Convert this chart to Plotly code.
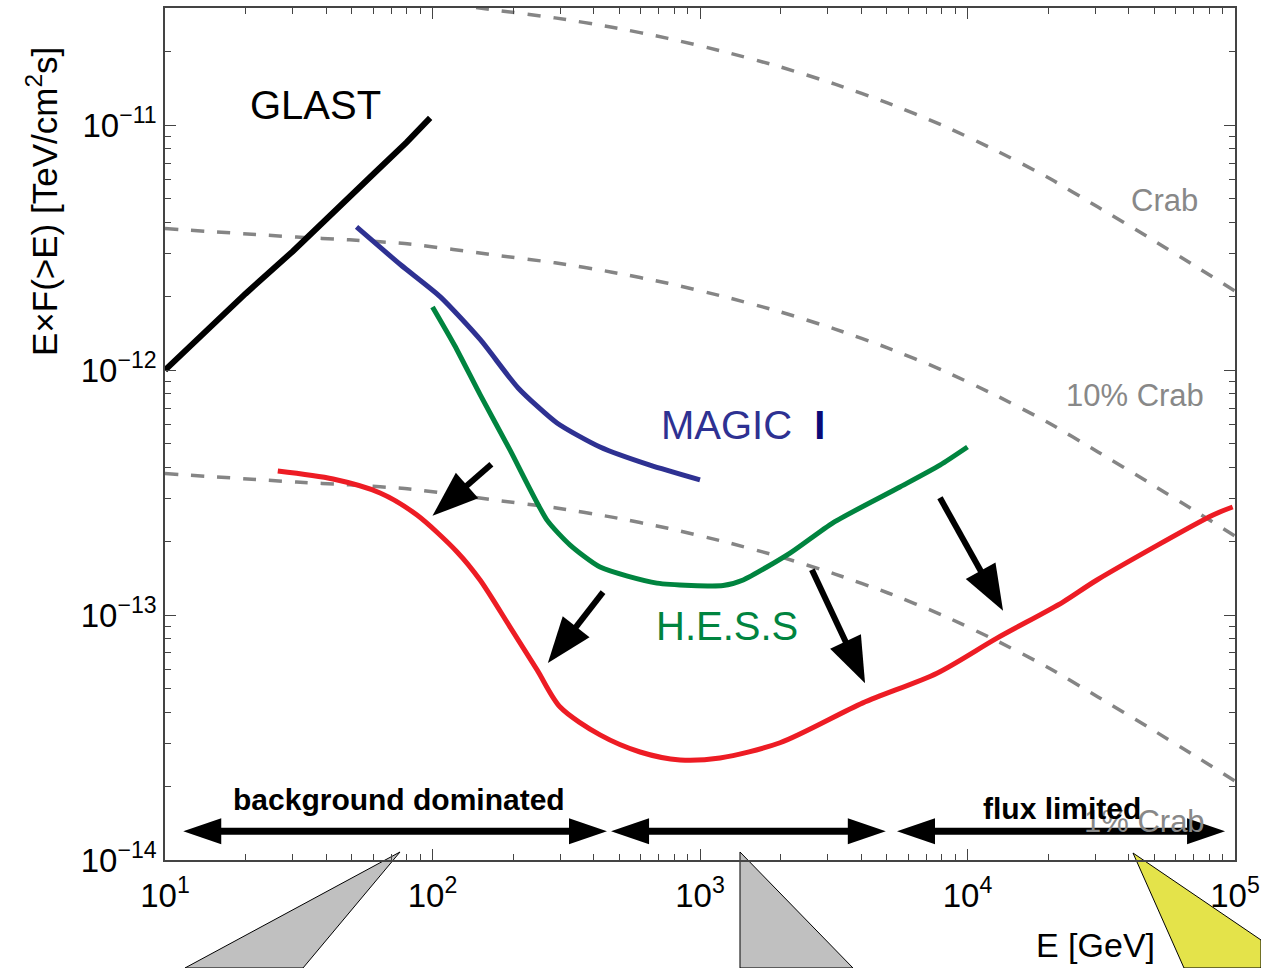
import math
import plotly.graph_objects as go

# ---------------- data ----------------
glast_E = [10, 15, 20, 30, 40, 60, 80, 98]
glast_F = [1.0e-12, 1.52e-12, 2.05e-12, 3.05e-12, 4.15e-12, 6.3e-12, 8.5e-12, 1.07e-11]

magic_E = [52, 76, 107, 151, 209, 292, 423, 650, 1000]
magic_F = [3.84e-12, 2.69e-12, 1.99e-12, 1.33e-12, 8.45e-13, 6.08e-13, 4.85e-13, 4.09e-13, 3.56e-13]

hess_E = [100, 121, 151, 195, 268, 327, 423, 690, 1220, 1450, 2170, 3140, 5590, 7890, 10000]
hess_F = [1.81e-12, 1.26e-12, 7.9e-13, 4.71e-13, 2.44e-13, 1.93e-13, 1.57e-13, 1.35e-13, 1.32e-13,
          1.39e-13, 1.79e-13, 2.38e-13, 3.33e-13, 4.09e-13, 4.85e-13]

cta_E = [26.4, 42.5, 63.7, 87.5, 123.6, 150.6, 195, 246, 300, 423, 597, 842, 1188, 1991, 4064, 7690,
         12890, 22740, 30470, 82800, 98000]
cta_F = [3.87e-13, 3.59e-13, 3.15e-13, 2.56e-13, 1.81e-13, 1.39e-13, 8.93e-14, 5.97e-14, 4.21e-14,
         3.24e-14, 2.76e-14, 2.56e-14, 2.61e-14, 3.01e-14, 4.38e-14, 5.79e-14, 8.05e-14, 1.13e-13,
         1.39e-13, 2.56e-13, 2.76e-13]

crab_E = [10, 31, 49, 82, 174, 287, 469, 759, 1239, 1990, 3197, 5047, 8035, 12680, 19830, 30740,
          47300, 72100, 100000]
crab_F = [3.78e-11, 3.49e-11, 3.40e-11, 3.27e-11, 2.94e-11, 2.74e-11, 2.51e-11, 2.26e-11, 1.99e-11,
          1.73e-11, 1.47e-11, 1.23e-11, 1.0e-11, 7.91e-12, 6.14e-12, 4.63e-12, 3.49e-12, 2.63e-12, 2.10e-12]
crab10_F = [3.78e-12, 3.49e-12, 3.40e-12, 3.27e-12, 2.94e-12, 2.74e-12, 2.51e-12, 2.26e-12, 1.99e-12,
            1.73e-12, 1.47e-12, 1.23e-12, 1.0e-12, 7.91e-13, 6.14e-13, 4.63e-13, 3.49e-13, 2.63e-13, 2.10e-13]
crab1_F = [3.78e-13, 3.49e-13, 3.40e-13, 3.27e-13, 2.94e-13, 2.74e-13, 2.51e-13, 2.26e-13, 1.99e-13,
           1.73e-13, 1.47e-13, 1.23e-13, 1.0e-13, 7.91e-14, 6.14e-14, 4.63e-14, 3.49e-14, 2.63e-14, 2.10e-14]

x_ticks = [10, 100, 1000, 10000, 100000]
x_ticktext = ["10<sup>1</sup>", "10<sup>2</sup>", "10<sup>3</sup>", "10<sup>4</sup>", "10<sup>5</sup>"]
y_ticks = [1e-14, 1e-13, 1e-12, 1e-11]
y_ticktext = ["10<sup>\u221214</sup>", "10<sup>\u221213</sup>", "10<sup>\u221212</sup>", "10<sup>\u221211</sup>"]

# arrows (tail -> tip) in (E, F)
down_arrows = [((166, 4.13e-13), (100, 2.54e-13)),
               ((434, 1.24e-13), (270, 6.37e-14)),
               ((2620, 1.53e-13), (4140, 5.27e-14)),
               ((7890, 3.01e-13), (13580, 1.04e-13))]
range_arrows = [(11.7, 449), (465, 4950), (5450, 91800)]
range_arrow_F = 1.31e-14

FONT = "Liberation Sans, Arial, Helvetica, sans-serif"
X_RANGE = [1, 5]
Y_RANGE = [-14, -10.522]

fig = go.Figure()
dash = "13px,13px"
for f in (crab_F, crab10_F, crab1_F):
    fig.add_trace(go.Scatter(x=crab_E, y=f, mode="lines",
                             line=dict(color="#858585", width=3.5, dash=dash, shape="spline", smoothing=0.6),
                             showlegend=False, hoverinfo="skip"))
fig.add_trace(go.Scatter(x=glast_E, y=glast_F, mode="lines", line=dict(color="black", width=6), showlegend=False))
fig.add_trace(go.Scatter(x=magic_E, y=magic_F, mode="lines",
                         line=dict(color="#2e3192", width=5, shape="spline", smoothing=0.6), showlegend=False))
fig.add_trace(go.Scatter(x=hess_E, y=hess_F, mode="lines",
                         line=dict(color="#00843f", width=5, shape="spline", smoothing=0.6), showlegend=False))
fig.add_trace(go.Scatter(x=cta_E, y=cta_F, mode="lines",
                         line=dict(color="#ed1c24", width=5, shape="spline", smoothing=0.8), showlegend=False))

# ---------- arrows as shapes (computed from data coords) ----------
W = 1070.0
H = 852.0


def to_px(E, F):
    px = (math.log10(E) - X_RANGE[0]) / (X_RANGE[1] - X_RANGE[0]) * W
    py = (math.log10(F) - Y_RANGE[0]) / (Y_RANGE[1] - Y_RANGE[0]) * H
    return px, py


def head_path(tip, d, L, hw):
    bx, by = tip[0] - L * d[0], tip[1] - L * d[1]
    nx, ny = -d[1], d[0]
    pts = [tip, (bx + hw * nx, by + hw * ny), (bx - hw * nx, by - hw * ny)]
    return "M " + " L ".join(f"{x / W:.5f},{y / H:.5f}" for x, y in pts) + " Z"


shapes = []


def add_arrow(p0, p1, L, hw, lw, both=False):
    dx, dy = p1[0] - p0[0], p1[1] - p0[1]
    n = math.hypot(dx, dy)
    d = (dx / n, dy / n)
    start = (p0[0] + (L - 2) * d[0], p0[1] + (L - 2) * d[1]) if both else p0
    end = (p1[0] - (L - 2) * d[0], p1[1] - (L - 2) * d[1])
    shapes.append(dict(type="line", xref="paper", yref="paper",
                       x0=start[0] / W, y0=start[1] / H, x1=end[0] / W, y1=end[1] / H,
                       line=dict(color="black", width=lw), layer="above"))
    shapes.append(dict(type="path", xref="paper", yref="paper", path=head_path(p1, d, L, hw),
                       fillcolor="black", line=dict(width=0), layer="above"))
    if both:
        shapes.append(dict(type="path", xref="paper", yref="paper",
                           path=head_path(p0, (-d[0], -d[1]), L, hw),
                           fillcolor="black", line=dict(width=0), layer="above"))


for (e0, f0), (e1, f1) in down_arrows:
    add_arrow(to_px(e0, f0), to_px(e1, f1), 46, 17, 6)
for e0, e1 in range_arrows:
    add_arrow(to_px(e0, range_arrow_F), to_px(e1, range_arrow_F), 38, 13, 7, both=True)


# decorative callout triangles below the axis (page pixel -> paper)
def pg(X, Y):
    return f"{(X - 165) / W:.5f},{(860 - Y) / H:.5f}"


for pts, col in [([(400, 852), (185, 968), (303, 968)], "#c0c0c0"),
                 ([(740, 852), (740, 968), (853, 968)], "#c0c0c0"),
                 ([(1133, 853), (1184, 968), (1261, 968), (1261, 940)], "#e4e34a")]:
    shapes.append(dict(type="path", xref="paper", yref="paper",
                       path="M " + " L ".join(pg(*p) for p in pts) + " Z",
                       fillcolor=col, line=dict(color="black", width=1), layer="below"))

# ---------- text labels ----------
L10 = math.log10
ann = []


def label(E, F, text, size, color, bold=False):
    t = f"<b>{text}</b>" if bold else text
    ann.append(dict(x=L10(E), y=L10(F), xref="x", yref="y", text=t, showarrow=False,
                    font=dict(family=FONT, size=size, color=color), xanchor="center", yanchor="middle"))


label(36.6, 1.21e-11, "GLAST", 40, "black")
label(1450, 5.97e-13, "MAGIC \u00a0<span style='color:#0a0a78'><b>I</b></span>", 40, "#2e3192")
label(1262, 9.0e-14, "H.E.S.S", 40, "#00843f")
label(54700, 4.94e-12, "Crab", 31, "#888888")
label(42300, 7.9e-13, "10% Crab", 31, "#888888")
label(46000, 1.44e-14, "1% Crab", 31, "#888888")
label(75, 1.76e-14, "background dominated", 30, "black", bold=True)
label(22500, 1.63e-14, "flux limited", 30, "black", bold=True)

ann.append(dict(x=(1095 - 165) / W, y=(860 - 945) / H, xref="paper", yref="paper", text="E [GeV]",
                showarrow=False, font=dict(family=FONT, size=34, color="black"),
                xanchor="center", yanchor="middle"))
ann.append(dict(x=(42 - 165) / W, y=(860 - 202) / H, xref="paper", yref="paper",
                text="E\u00d7F(>E) [TeV/cm<sup>2</sup>s]", textangle=-90,
                showarrow=False, font=dict(family=FONT, size=35, color="black"),
                xanchor="center", yanchor="middle"))

x_minor = [m * 10 ** k for k in range(1, 5) for m in range(2, 10)]
y_minor = [m * 10.0 ** k for k in range(-14, -10) for m in range(2, 10)]

axis_common = dict(showgrid=False, zeroline=False, showline=True, linecolor="#444444", linewidth=1.5,
                   mirror="ticks", ticks="inside", ticklen=11, tickwidth=1.3, tickcolor="#444444",
                   tickfont=dict(family=FONT, size=33, color="black"), automargin=False)

fig.update_layout(
    width=1261, height=968,
    margin=dict(l=165, r=26, t=8, b=108, autoexpand=False),
    paper_bgcolor="white", plot_bgcolor="white",
    xaxis=dict(type="log", range=X_RANGE, tickvals=x_ticks, ticktext=x_ticktext, ticklabelstandoff=6,
               minor=dict(tickvals=x_minor, ticks="inside", ticklen=6, tickwidth=1.3, tickcolor="#444444",
                          showgrid=False),
               **axis_common),
    yaxis=dict(type="log", range=Y_RANGE, tickvals=y_ticks, ticktext=y_ticktext,
               minor=dict(tickvals=y_minor, ticks="inside", ticklen=6, tickwidth=1.3, tickcolor="#444444",
                          showgrid=False),
               **axis_common),
    shapes=shapes,
    annotations=ann,
    showlegend=False,
)

fig.write_html("out.html")
